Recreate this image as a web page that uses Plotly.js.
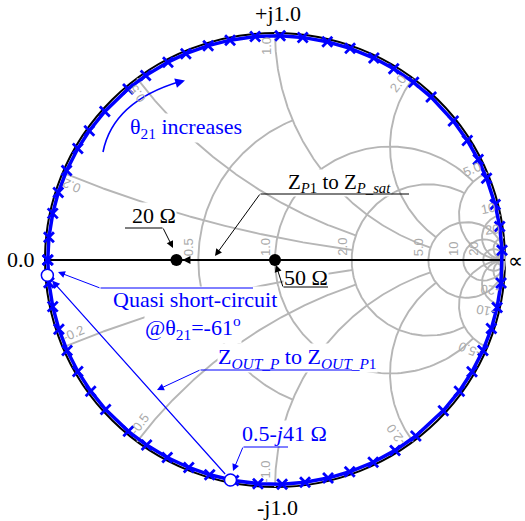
<!DOCTYPE html>
<html>
<head>
<meta charset="utf-8">
<script src="https://cdn.plot.ly/plotly-3.0.1.min.js"></script>
<style>html,body{margin:0;padding:0;background:#fff;}</style>
</head>
<body>
<div id="chart" style="width:525px;height:521px;"></div>
<script>
// smith chart grid: circle / arc values and how far each one is drawn
var rCircles = [0.5, 1, 2, 5, 10, 20, 50];
var rLimits  = [1, 5, 5, Infinity, Infinity, Infinity, Infinity];
var rLabels  = ['0.5', '1.0', '2.0', '5.0', '10', '20'];
var xArcs    = [0.2, 0.5, 1, 2, 5, 10, 20, 50];
var xLimits  = [2, 2, 5, 5, Infinity, Infinity, Infinity, Infinity];
var xLabels  = ['0.2', '0.5', '1.0', '2.0', '5.0', '10', '20'];

// theta21 sweep: angle of reflection coeff. (deg), |G|
var sweepMag = 0.988;
var sweepAngle = [180, 174.2, 168, 162.5, 156.5, 150.2, 144.8, 138.5, 130.3, 124.7,
  118.1, 113.1, 107.1, 101.4, 95, 88.7, 83, 76.7, 70.7, 64.2, 58.5, 52.4, 46.6, 38.3,
  32.2, 26.6, 21.4, 14.3, 8.6, 2.5, -5.9, -12.2, -17.8, -23.8, -29.9, -35.8, -42.2,
  -51.7, -58.1, -64.4, -70.8, -76.5, -82.4, -88.2, -94.3, -100.5, -106.7, -112.3,
  -118.3, -124.4, -130.2, -138.2, -144.2, -150.2, -156.2, -162, -168, -174.2];

var Z0 = 50;
// Z_P1 -> Z_P_sat (ohm)
var zpR = [50, 20];
var zpX = [0, 0];
// Z_OUT_P (0.5-j41) and quasi short-circuit
var zoutR = [0.5, 0.2];
var zoutX = [-41, -1.7];

// pixel helpers (margins are 0, so the figure is the plot area)
var CX = 275, CY = 260, SX = 230, SY = 227;
function X(px) { return (px - CX) / SX; }
function Y(py) { return (CY - py) / SY; }

function gam(r, x) {
  var d = (r + 1) * (r + 1) + x * x;
  return [(r * r + x * x - 1) / d, 2 * x / d];
}

// grid lines
var gx = [], gy = [], N = 240, k, s, g, smax;
rCircles.forEach(function (r, i) {
  smax = Math.atan(rLimits[i]);
  for (k = 0; k <= N; k++) {
    s = -smax + 2 * smax * k / N;
    g = gam(r, Math.tan(s));
    gx.push(g[0]); gy.push(g[1]);
  }
  gx.push(null); gy.push(null);
});
xArcs.forEach(function (v, j) {
  smax = Math.atan(xLimits[j]);
  [1, -1].forEach(function (sg) {
    for (k = 0; k <= N; k++) {
      s = smax * k / N;
      g = gam(Math.tan(s), sg * v);
      gx.push(g[0]); gy.push(g[1]);
    }
    gx.push(null); gy.push(null);
  });
});

var labelFont = {family: 'Liberation Sans', size: 13, color: '#aaaaaa'};
function textLen(t) {
  var n = 0;
  for (var i = 0; i < t.length; i++) n += (t[i] === '.') ? 0.278 : (t[i] === '-' ? 0.333 : 0.556);
  return n * labelFont.size;
}

var annotations = [];
// labels on the real axis
rLabels.forEach(function (t, i) {
  var px = CX + SX * (rCircles[i] - 1) / (rCircles[i] + 1);
  annotations.push({x: X(px - 9), y: Y(CY - 4 - textLen(t) / 2), text: t, textangle: -90,
    showarrow: false, font: labelFont});
});
// labels on the rim
xLabels.forEach(function (t, j) {
  var th0 = 180 - 2 * Math.atan(xArcs[j]) * 180 / Math.PI;
  [1, -1].forEach(function (sg) {
    var th = sg * th0, txt = sg > 0 ? t : '-' + t;
    var rad = th * Math.PI / 180;
    var bx = CX + SX * Math.cos(rad), by = CY - SY * Math.sin(rad);
    var ta = sg > 0 ? -th : -th - 180;
    var tr = ta * Math.PI / 180;
    var dx = Math.cos(tr), dy = Math.sin(tr);
    var ux = dy, uy = -dx;
    var inx = -Math.cos(rad), iny = Math.sin(rad);
    var off = 4 + textLen(txt) / 2;
    annotations.push({x: X(bx + inx * off + ux * 9), y: Y(by + iny * off + uy * 9),
      text: txt, textangle: ta, showarrow: false, font: labelFont});
  });
});

var serif = 'Liberation Serif';
function label(px, py, text, color, size, bg) {
  annotations.push({x: X(px), y: Y(py), text: text, showarrow: false,
    font: {family: serif, size: size, color: color},
    bgcolor: bg ? 'white' : 'rgba(0,0,0,0)', borderpad: 0});
}
function arrow(hx, hy, tx, ty, color, w, size, head) {
  annotations.push({x: X(hx), y: Y(hy), ax: X(tx), ay: Y(ty), axref: 'x', ayref: 'y',
    text: '', borderpad: 0, showarrow: true, arrowhead: head === undefined ? 2 : head,
    arrowsize: size, arrowwidth: w, arrowcolor: color});
}

label(278, 13, '+j1.0', 'black', 22, false);
label(277, 507, '-j1.0', 'black', 22, false);
label(21, 259, '0.0', 'black', 22, false);
label(515, 261, '\u221d', 'black', 21, false);

label(186, 128, '\u03b8<sub>21</sub> increases', 'blue', 22, true);
label(339, 183, 'Z<sub><i>P</i>1</sub> to Z<sub><i>P_sat</i></sub>', 'black', 21, true);
label(154, 215, '20 \u03a9', 'black', 22, true);
label(306, 277, '50 \u03a9', 'black', 22, true);
label(195, 299, 'Quasi short-circuit', 'blue', 22, true);
label(193, 327, '@\u03b8<sub>21</sub>=-61<sup>o</sup>', 'blue', 22, true);
label(297, 358, 'Z<sub><i>OUT_P</i></sub> to Z<sub><i>OUT_P</i>1</sub>', 'blue', 22, true);
label(284, 433, '0.5-<i>j</i>41 \u03a9', 'blue', 22, true);

// underlines and leaders, drawn after the text boxes
arrow(409, 194, 260, 194, 'black', 1, 1, 0);
arrow(215, 256, 260, 194, 'black', 1, 1.4);
arrow(125, 228, 163, 228, 'black', 1, 1, 0);
arrow(173, 248, 163, 228, 'black', 1, 1.4);
arrow(328, 287, 283, 287, 'black', 1, 1, 0);
arrow(276, 265, 283, 287, 'black', 1, 1.4);
arrow(253, 288, 100, 288, 'blue', 1, 1, 0);
arrow(58, 272, 100, 288, 'blue', 1, 1.4);
arrow(352, 370, 200, 370, 'blue', 1, 1, 0);
arrow(157, 390, 200, 370, 'blue', 1, 1.4);
arrow(288, 447, 243, 447, 'blue', 1, 1, 0);
arrow(233, 471, 243, 447, 'blue', 1, 1.4);
arrow(185, 80.5, 177.3, 82.7, 'blue', 1.5, 1.3);

// data arrows between measured points
var gp = zpR.map(function (r, i) { return gam(r / Z0, zpX[i] / Z0); });
var go = zoutR.map(function (r, i) { return gam(r / Z0, zoutX[i] / Z0); });
annotations.push({x: gp[1][0], y: gp[1][1], ax: gp[0][0], ay: gp[0][1], axref: 'x', ayref: 'y',
  text: '', showarrow: true, arrowhead: 2, arrowsize: 0.8, arrowwidth: 2, arrowcolor: 'black', standoff: 6});
annotations.push({x: go[1][0], y: go[1][1], ax: go[0][0], ay: go[0][1], axref: 'x', ayref: 'y',
  text: '', showarrow: true, arrowhead: 2, arrowsize: 1.3, arrowwidth: 1.2, arrowcolor: 'blue',
  standoff: 7, startstandoff: 6});

var shapes = [
  {type: 'circle', xref: 'x', yref: 'y', x0: -1, y0: -1, x1: 1, y1: 1, layer: 'below',
    line: {color: 'black', width: 2}},
  {type: 'path', xref: 'x', yref: 'y', line: {color: 'blue', width: 1.6},
    path: 'M' + X(103) + ',' + Y(152) + ' Q' + X(113) + ',' + Y(101.5) + ' ' + X(180) + ',' + Y(81.5)}
];

var sx = [], sy = [];
sweepAngle.concat([sweepAngle[0]]).forEach(function (a) {
  sx.push(sweepMag * Math.cos(a * Math.PI / 180));
  sy.push(sweepMag * Math.sin(a * Math.PI / 180));
});

var traces = [
  {x: gx, y: gy, mode: 'lines', line: {color: '#b6b6b6', width: 1.9}, hoverinfo: 'skip'},
  {x: [-1, 1], y: [0, 0], mode: 'lines', line: {color: 'black', width: 2}, hoverinfo: 'skip'},
  {x: sx, y: sy, mode: 'lines+markers', line: {color: 'blue', width: 3.5},
    marker: {symbol: 'x-thin', size: 10, line: {color: 'blue', width: 2.8}}, cliponaxis: false},
  {x: gp.map(function (p) { return p[0]; }), y: gp.map(function (p) { return p[1]; }),
    mode: 'markers', marker: {color: 'black', size: 12}},
  {x: go.map(function (p) { return p[0]; }), y: go.map(function (p) { return p[1]; }),
    mode: 'markers', marker: {color: 'white', size: 12, line: {color: 'blue', width: 1.5}},
    cliponaxis: false}
];

var layout = {
  width: 525, height: 521,
  margin: {l: 0, r: 0, t: 0, b: 0},
  showlegend: false,
  paper_bgcolor: 'white', plot_bgcolor: 'white',
  xaxis: {range: [X(0), X(525)], visible: false, fixedrange: true},
  yaxis: {range: [Y(521), Y(0)], visible: false, fixedrange: true},
  shapes: shapes,
  annotations: annotations
};

Plotly.newPlot('chart', traces, layout, {displayModeBar: false, staticPlot: true});
</script>
</body>
</html>
